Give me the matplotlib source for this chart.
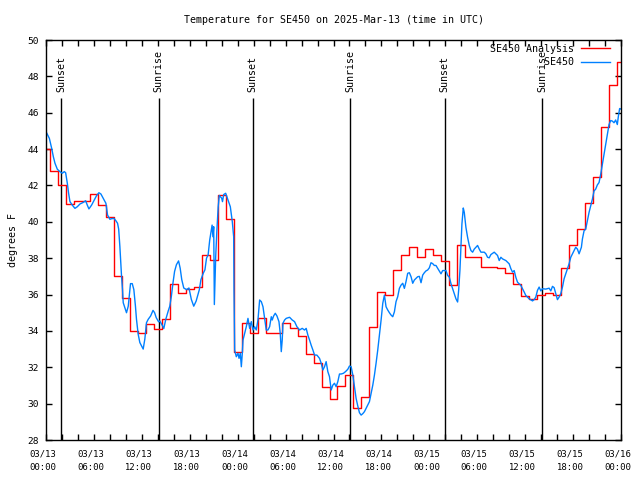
#!/usr/bin/env python3
"""Temperature for SE450: hourly analysis (step) vs station obs, with sun events."""
import matplotlib
matplotlib.use("Agg")
import matplotlib.pyplot as plt
from matplotlib.ticker import MultipleLocator
from matplotlib.transforms import ScaledTranslation

# hours since 2025-03-13 00:00 UTC
analysis_temp = [
    44.0, 42.8, 42.0, 41.0, 41.15, 41.15, 41.55, 40.9, 40.25, 37.0,
    35.8, 34.0, 33.9, 34.4, 34.1, 34.65, 36.6, 36.1, 36.3, 36.4,
    38.2, 37.9, 41.45, 40.15, 32.86, 34.42, 33.87, 34.69, 33.87, 33.87,
    34.45, 34.14, 33.72, 32.71, 32.22, 30.93, 30.25, 30.99, 31.57, 29.74,
    30.34, 34.23, 36.16, 35.97, 37.35, 38.17, 38.63, 38.05, 38.51, 38.18,
    37.87, 36.5, 38.73, 38.05, 38.05, 37.54, 37.5, 37.47, 37.2, 36.6,
    35.92, 35.77, 36.0, 36.1, 35.95, 37.47, 38.73, 39.6, 41.03, 42.49,
    45.2, 47.5, 48.78,
]
analysis_hours = list(range(len(analysis_temp)))

obs_hours = [
    0.0, 0.42, 0.71, 0.92, 1.125, 1.42, 1.75, 2.04, 2.29, 2.46, 2.67, 2.83, 3.0, 3.29,
    3.625, 3.92, 4.25, 4.67, 4.96, 5.17, 5.375, 5.71, 6.0, 6.33, 6.625, 6.875, 7.17, 7.5,
    7.71, 8.0, 8.2, 8.5, 8.75, 8.96, 9.1, 9.25, 9.46, 9.58, 9.67, 9.875, 10.08, 10.3,
    10.4, 10.58, 10.8, 11.0, 11.2, 11.33, 11.54, 11.75, 11.96, 12.17, 12.375, 12.58, 12.8, 13.1,
    13.4, 13.6, 13.8, 14.1, 14.25, 14.6, 14.75, 15.0, 15.3, 15.5, 15.7, 15.9, 16.1, 16.33,
    16.6, 16.8, 17.0, 17.25, 17.6, 17.9, 18.2, 18.5, 18.8, 19.2, 19.4, 19.7, 19.9, 20.1,
    20.3, 20.5, 20.7, 20.8, 20.9, 21.0, 21.08, 21.25, 21.4, 21.56, 21.7, 22.0, 22.1, 22.25,
    22.5, 22.79, 23.08, 23.33, 23.5, 23.54, 23.625, 23.83, 24.04, 24.17, 24.33, 24.46, 24.58, 24.67,
    24.875, 25.08, 25.29, 25.5, 25.71, 25.92, 26.125, 26.33, 26.54, 26.75, 26.96, 27.17, 27.375, 27.58,
    27.79, 28.0, 28.21, 28.33, 28.5, 28.71, 28.92, 29.17, 29.33, 29.46, 29.58, 29.67, 29.875, 30.08,
    30.5, 30.83, 31.125, 31.42, 31.75, 32.08, 32.375, 32.58, 32.79, 33.0, 33.2, 33.42, 33.625, 33.92,
    34.25, 34.46, 34.67, 34.875, 35.08, 35.29, 35.5, 35.71, 35.92, 36.125, 36.33, 36.54, 36.75, 36.96,
    37.25, 37.5, 37.79, 38.0, 38.21, 38.42, 38.625, 38.83, 39.04, 39.25, 39.46, 39.67, 39.875, 40.08,
    40.29, 40.5, 40.71, 40.92, 41.125, 41.33, 41.54, 41.75, 41.96, 42.17, 42.375, 42.58, 42.79, 43.0,
    43.21, 43.42, 43.625, 43.83, 44.04, 44.25, 44.46, 44.67, 44.875, 45.08, 45.29, 45.5, 45.71, 45.92,
    46.125, 46.33, 46.54, 46.75, 46.96, 47.17, 47.375, 47.58, 47.79, 48.0, 48.21, 48.42, 48.625, 48.83,
    49.04, 49.25, 49.46, 49.67, 50.08, 50.29, 50.5, 50.71, 50.92, 51.125, 51.33, 51.54, 51.67, 51.83,
    51.96, 52.08, 52.25, 52.375, 52.58, 52.79, 53.0, 53.21, 53.42, 53.625, 53.83, 54.04, 54.25, 54.46,
    54.875, 55.08, 55.29, 55.5, 55.71, 56.125, 56.54, 56.75, 56.96, 57.17, 57.58, 58.0, 58.21, 58.42,
    58.625, 58.83, 59.04, 59.46, 59.67, 59.875, 60.08, 60.29, 60.5, 60.92, 61.125, 61.33, 61.54, 61.75,
    61.96, 62.17, 62.58, 63.0, 63.21, 63.42, 63.625, 63.83, 64.04, 64.25, 64.46, 64.67, 64.875, 65.08,
    65.29, 65.5, 65.71, 65.92, 66.125, 66.33, 66.54, 66.75, 67.04, 67.17, 67.375, 67.58, 67.79, 68.0,
    68.21, 68.42, 68.625, 68.83, 69.04, 69.25, 69.46, 69.67, 69.875, 70.08, 70.29, 70.5, 70.71, 70.92,
    71.125, 71.33, 71.54, 71.67, 71.83, 72.0,
]
obs_temp = [
    44.96, 44.59, 44.04, 43.58, 43.22, 42.89, 42.76, 42.67, 42.76, 42.7, 42.12, 41.57, 41.11, 40.92,
    40.74, 40.83, 40.98, 41.07, 41.16, 40.92, 40.71, 40.92, 41.16, 41.44, 41.6, 41.53, 41.29, 41.02,
    40.37, 40.14, 40.17, 40.19, 40.06, 39.92, 39.6, 38.64, 37.0, 36.27, 35.55, 35.27, 35.0, 35.36,
    35.8, 36.6, 36.6, 36.27, 35.36, 34.64, 33.82, 33.36, 33.18, 33.0, 33.55, 34.45, 34.64, 34.82,
    35.13, 35.0, 34.73, 34.5, 34.55, 34.27, 34.13, 34.64, 35.09, 35.36, 35.91, 36.64, 37.27, 37.64,
    37.85, 37.45, 36.82, 36.36, 36.27, 36.36, 35.73, 35.36, 35.64, 36.27, 36.82, 37.18, 37.36, 38.0,
    38.18, 39.0, 39.55, 39.82, 39.18, 39.73, 35.45, 38.09, 39.55, 40.82, 41.45, 41.3, 41.11, 41.5,
    41.57, 41.2, 40.83, 40.0, 39.18, 36.25, 32.95, 32.58, 32.77, 32.49, 32.77, 32.03, 32.77, 33.5,
    33.87, 34.23, 34.69, 34.14, 34.51, 34.05, 34.23, 34.05, 34.6, 35.7, 35.61, 35.33, 34.69, 34.05,
    34.05, 34.23, 34.78, 34.6, 34.82, 34.97, 34.82, 34.51, 33.87, 32.86, 33.5, 34.42, 34.6, 34.69,
    34.75, 34.6, 34.51, 34.23, 34.05, 34.14, 34.05, 34.14, 33.77, 33.5, 33.22, 32.95, 32.67, 32.67,
    32.49, 32.22, 31.85, 32.03, 32.31, 31.76, 31.48, 30.75, 31.02, 31.12, 30.93, 31.21, 31.63, 31.63,
    31.67, 31.76, 31.89, 32.07, 32.03, 31.57, 30.93, 30.29, 29.87, 29.5, 29.37, 29.45, 29.56, 29.74,
    29.92, 30.11, 30.57, 31.02, 31.57, 32.22, 32.95, 33.77, 34.6, 35.52, 35.97, 35.33, 35.15, 35.0,
    34.87, 34.78, 35.05, 35.61, 35.88, 36.34, 36.52, 36.62, 36.34, 36.71, 37.17, 37.2, 36.98, 36.62,
    36.8, 36.89, 36.98, 37.0, 36.65, 37.07, 37.2, 37.3, 37.35, 37.47, 37.75, 37.7, 37.6, 37.6,
    37.45, 37.3, 37.14, 37.32, 37.32, 37.05, 36.96, 36.6, 36.32, 36.05, 35.77, 35.59, 36.23, 37.32,
    38.6, 39.88, 40.76, 40.52, 39.7, 39.15, 38.7, 38.42, 38.33, 38.5, 38.6, 38.7, 38.5, 38.33,
    38.33, 38.24, 38.05, 38.02, 38.2, 38.33, 38.15, 37.87, 38.05, 37.96, 37.87, 37.69, 37.42, 37.23,
    37.32, 36.95, 36.68, 36.5, 36.32, 36.14, 35.95, 35.86, 35.77, 35.65, 35.72, 35.86, 36.23, 36.41,
    36.2, 36.32, 36.3, 36.35, 36.2, 36.45, 36.38, 36.05, 35.72, 35.86, 36.05, 36.41, 36.87, 37.14,
    37.42, 37.69, 38.05, 38.24, 38.42, 38.6, 38.5, 38.24, 38.6, 39.06, 39.51, 39.6, 40.06, 40.52,
    40.88, 41.25, 41.7, 41.8, 42.03, 42.16, 42.62, 43.16, 43.71, 44.26, 44.8, 45.35, 45.57, 45.54,
    45.45, 45.6, 45.35, 45.8, 46.23, 46.2,
]

sun_hours = [1.9, 14.1, 25.9, 38.1, 49.9, 62.1]
sun_labels = ["Sunset", "Sunrise", "Sunset", "Sunrise", "Sunset", "Sunrise"]

tick_hours = list(range(0, 73, 6))
tick_labels = [
    "03/13\n00:00", "03/13\n06:00", "03/13\n12:00", "03/13\n18:00",
    "03/14\n00:00", "03/14\n06:00", "03/14\n12:00", "03/14\n18:00",
    "03/15\n00:00", "03/15\n06:00", "03/15\n12:00", "03/15\n18:00",
    "03/16\n00:00",
]

plt.rcParams["font.family"] = ["DejaVu Sans Mono"]
plt.rcParams["font.size"] = 7.2

fig = plt.figure(figsize=(6.4, 4.8), dpi=100)
ax = fig.add_axes([46 / 640, 40 / 480, 575 / 640, 400 / 480])

ax.vlines(sun_hours, 28, 46.8, color="black", linewidth=1.0)
for h, lab in zip(sun_hours, sun_labels):
    ax.text(h, 47.15, lab, rotation=90, ha="center", va="bottom")

ax.plot(analysis_hours, analysis_temp, drawstyle="steps-mid", color="#ff0000",
        linewidth=1.0, label="SE450 Analysis")
ax.plot(obs_hours, obs_temp, color="#0080ff", linewidth=1.0, label="         SE450")

ax.set_xlim(0, 72)
ax.set_ylim(28, 50)
ax.set_xticks(tick_hours)
ax.set_xticklabels(tick_labels, linespacing=1.6, fontsize=6.4)
ax.xaxis.set_minor_locator(MultipleLocator(2))
ax.yaxis.set_major_locator(MultipleLocator(2))
ax.tick_params(which="both", direction="in", top=True, right=True, length=4, width=1)
ax.tick_params(axis="x", pad=7)
ax.tick_params(axis="y", pad=5, labelsize=6.8)
# gnuplot draws the date labels a few pixels left of their tick
shift = ScaledTranslation(-3 / 100, 0, fig.dpi_scale_trans)
for lab in ax.get_xticklabels():
    lab.set_transform(lab.get_transform() + shift)
for s in ax.spines.values():
    s.set_linewidth(1.0)

ax.set_ylabel("degrees F", labelpad=7)
ax.set_title("Temperature for SE450 on 2025-Mar-13 (time in UTC)", fontsize=7.2, pad=12)

ax.legend(loc="upper right", bbox_to_anchor=(0.98, 0.99), frameon=False,
          markerfirst=False, handlelength=2.9, handletextpad=0.7,
          labelspacing=0.35, borderpad=0, borderaxespad=0)

fig.savefig("out.png", dpi=100)
